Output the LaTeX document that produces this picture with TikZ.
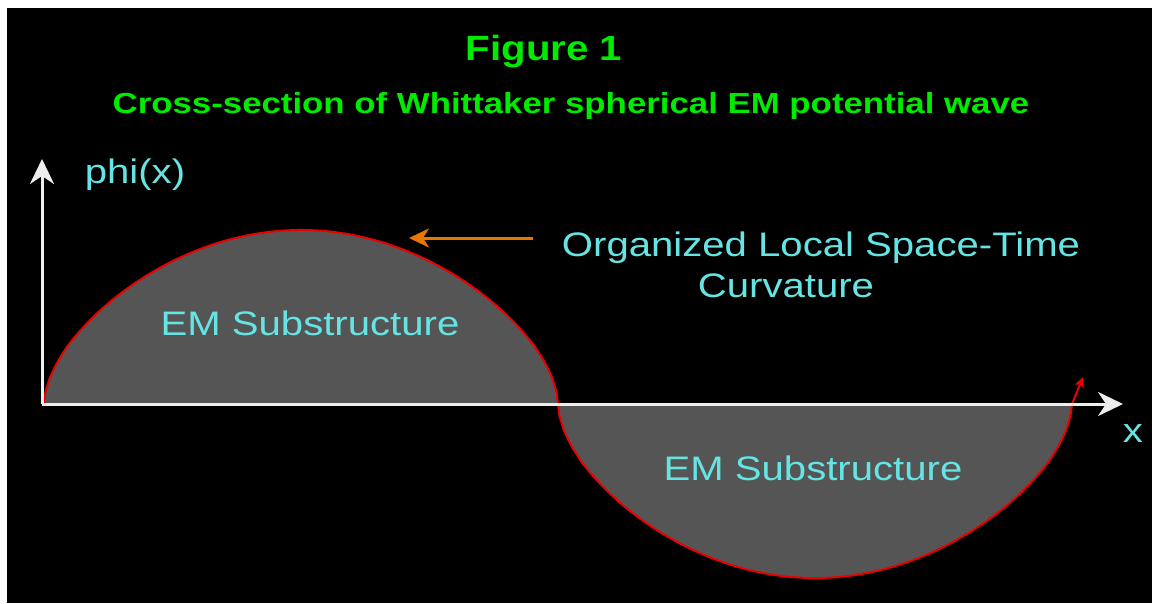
\documentclass[tikz,border=0pt]{standalone}
\usepackage{fontspec}
\setmainfont{Liberation Sans}
\newfontfamily\headfont[FakeStretch=1.15]{Liberation Sans}
\newfontfamily\subfont[FakeStretch=1.2]{Liberation Sans}
\newfontfamily\labfont[FakeStretch=1.18]{Liberation Sans}
\usetikzlibrary{arrows.meta}
\definecolor{figgreen}{RGB}{0,235,0}
\definecolor{labcyan}{RGB}{102,228,228}
\definecolor{wavegray}{RGB}{85,85,85}
\definecolor{wavered}{RGB}{235,0,0}
\definecolor{ptrorange}{RGB}{232,118,0}
\definecolor{axiswhite}{RGB}{238,238,238}
\tikzset{
  lab/.style={text=labcyan, font=\labfont\fontsize{34}{40}\selectfont, anchor=base, inner sep=0pt},
  heading/.style={text=figgreen, anchor=base, inner sep=0pt},
  axisline/.style={draw=axiswhite, line width=3pt, -{Stealth[length=25pt,width=24pt,inset=8pt]}},
  waveline/.style={draw=wavered, line width=2pt},
  pointer/.style={draw=ptrorange, line width=3pt, -{Stealth[length=20pt,width=19pt,inset=6pt]}}
}
\begin{document}
\begin{tikzpicture}[x=1pt,y=-1pt]
\useasboundingbox (0,0) rectangle (1152,603);
\fill[black] (7,8) rectangle (1152,603);

% titles
\node[heading, font=\headfont\bfseries\fontsize{35}{40}\selectfont] (fig) at (544,60) {Figure 1};
\node[heading, font=\subfont\bfseries\fontsize{29}{34}\selectfont] (sub) at (571,113) {Cross-section of Whittaker spherical EM potential wave};

% wave halves
\fill[wavegray] (44,404) -- plot[domain=0.5:179.5,samples=120] ({44+\x/180*514},{404-174*exp(0.57*ln(sin(\x)))}) -- (558,404) -- cycle;
\fill[wavegray] (558,404) -- plot[domain=0.5:179.5,samples=120] ({558+\x/180*514},{404+174*exp(0.57*ln(sin(\x)))}) -- (1072,404) -- cycle;
\draw[waveline] (44,404) -- plot[domain=0.5:179.5,samples=120] ({44+\x/180*514},{404-174*exp(0.57*ln(sin(\x)))}) -- (558,404);
\draw[waveline, -{Stealth[length=10pt,width=9pt,inset=2pt]}] (558,404) -- plot[domain=0.5:179.5,samples=120] ({558+\x/180*514},{404+174*exp(0.57*ln(sin(\x)))}) -- (1072,404) -- (1083,377);

% axes
\coordinate (O) at (42,404);
\coordinate (ytip) at (42,159);
\coordinate (xtip) at (1123,404);
\draw[axisline] (O) -- (ytip);
\draw[axisline] (O) -- (xtip);

% labels
\node[lab] (phi) at (135,183) {phi(x)};
\node[lab] (xlab) at (1133,442) {x};
\node[lab] (emup) at (310,335) {EM Substructure};
\node[lab] (emlow) at (813,480) {EM Substructure};
\node[lab] (org) at (821,256) {Organized Local Space-Time};
\node[lab] (curv) at (786,297) {Curvature};

% pointer to the crest
\coordinate (ptrend) at (409,238);
\coordinate (ptrstart) at (533,238);
\draw[pointer] (ptrstart) -- (ptrend);
\end{tikzpicture}
\end{document}
